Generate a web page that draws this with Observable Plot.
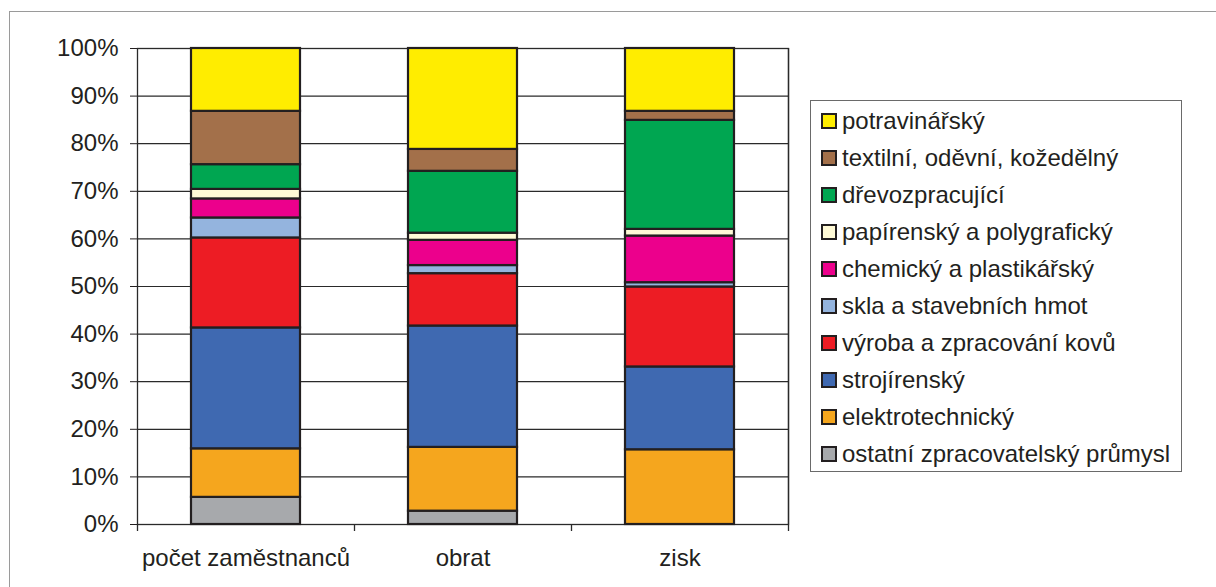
<!DOCTYPE html>
<html>
<head>
<meta charset="utf-8">
<script src="https://cdn.jsdelivr.net/npm/d3@7"></script>
<script src="https://cdn.jsdelivr.net/npm/@observablehq/plot@0.6"></script>
<style>
  html, body { margin: 0; padding: 0; background: #fff; }
  #wrap { position: relative; width: 1216px; height: 587px; overflow: hidden; font-family: "Liberation Sans", Arial, sans-serif; color: #231F20; }
  #frame { position: absolute; left: 9px; top: 11px; width: 1400px; height: 800px; border-left: 1.5px solid #9a9a9a; border-top: 1.5px solid #9a9a9a; }
  #chart { position: absolute; left: 0; top: 0; }
  #legend { position: absolute; left: 810px; top: 100px; width: 372px; height: 372px; border: 1px solid #6a6a6a; box-sizing: border-box; padding-top: 1px; background: #fff; }
  .item { height: 37px; display: flex; align-items: center; padding-left: 10px; font-size: 24px; white-space: nowrap; }
  .sw { width: 12px; height: 12px; border: 2px solid #231F20; margin-right: 5px; flex: none; }
</style>
</head>
<body>
<div id="wrap">
  <div id="frame"></div>
  <div id="chart"></div>
  <div id="legend"></div>
</div>
<script>
// Categories (x axis)
const categories = ["počet zaměstnanců", "obrat", "zisk"];
// Sectors in legend order (top to bottom)
const sectors = [
  "potravinářský",
  "textilní, oděvní, kožedělný",
  "dřevozpracující",
  "papírenský a polygrafický",
  "chemický a plastikářský",
  "skla a stavebních hmot",
  "výroba a zpracování kovů",
  "strojírenský",
  "elektrotechnický",
  "ostatní zpracovatelský průmysl"
];
const colors = ["#FFED00", "#A3704A", "#00A651", "#FFFAD6", "#EC008C", "#94B4DE", "#ED1C24", "#3F69B1", "#F5A61E", "#A7A9AC"];
// Shares in % (legend order)
const pocetZamestnancu = [13.2, 11.2, 5.2, 2.0, 4.0, 4.2, 18.9, 25.4, 10.2, 5.7];
const obrat            = [21.2, 4.6, 13.0, 1.5, 5.3, 1.7, 11.0, 25.5, 13.4, 2.8];
const zisk             = [13.2, 1.9, 22.9, 1.4, 9.8, 0.9, 16.8, 17.4, 15.7, 0.0];
const yTicks = [0, 10, 20, 30, 40, 50, 60, 70, 80, 90, 100];

const series = [pocetZamestnancu, obrat, zisk];
// build table bottom-up (stack order: last legend item at bottom)
const rows = [];
categories.forEach((c, ci) => {
  for (let si = sectors.length - 1; si >= 0; si--) {
    rows.push({category: c, sector: sectors[si], value: series[ci][si]});
  }
});

const boundaryTicks = (index, scales, values, dims) => {
  const x = scales.x, y = scales.y;
  const bw = typeof x.bandwidth === "function" ? x.bandwidth() : x.bandwidth;
  const centers = categories.map(c => x(c) + bw / 2);
  const left = dims.marginLeft, right = dims.width - dims.marginRight;
  const xs = [left];
  for (let i = 0; i < centers.length - 1; i++) xs.push((centers[i] + centers[i + 1]) / 2);
  xs.push(right);
  const y0 = y(0);
  const g = d3.create("svg:g").attr("stroke", "#2a2a2a").attr("stroke-width", 1.3);
  xs.forEach((px, i) => {
    g.append("line")
      .attr("x1", Math.round(px) + 0.5).attr("x2", Math.round(px) + 0.5)
      .attr("y1", i === xs.length - 1 ? dims.marginTop : y0)
      .attr("y2", y0 + 7);
  });
  return g.node();
};

const plot = Plot.plot({
  width: 800,
  height: 587,
  marginLeft: 137,
  marginRight: 12,
  marginTop: 48,
  marginBottom: 63,
  style: {fontFamily: "'Liberation Sans', Arial, sans-serif", fontSize: "24px", color: "#231F20", background: "transparent", overflow: "visible"},
  x: {domain: categories, paddingInner: 0.5, paddingOuter: 0.25, tickSize: 0, tickPadding: 24, label: null},
  y: {domain: [0, 100], ticks: yTicks, tickFormat: d => d + "%", tickSize: 7, tickPadding: 12, label: null},
  color: {domain: sectors, range: colors},
  marks: [
    Plot.ruleY(yTicks, {stroke: "#2a2a2a", strokeWidth: 1.2}),
    Plot.frame({stroke: "#2a2a2a", strokeWidth: 1.3}),
    Plot.barY(rows.filter(d => d.value > 0), {x: "category", y: "value", fill: "sector", stroke: "#231F20", strokeWidth: 2.2}),
    boundaryTicks
  ]
});
document.getElementById("chart").appendChild(plot);

const colorScale = plot.scale("color");
const legend = d3.select("#legend");
sectors.forEach(s => {
  const it = legend.append("div").attr("class", "item");
  it.append("div").attr("class", "sw").style("background", colorScale.apply(s));
  it.append("span").text(s);
});
</script>
</body>
</html>
